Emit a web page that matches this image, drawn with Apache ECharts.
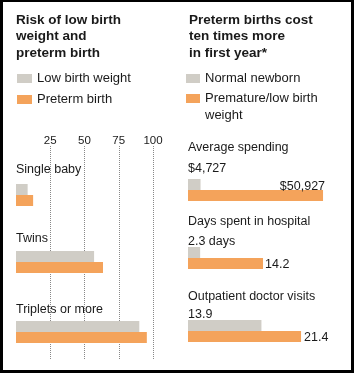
<!DOCTYPE html>
<html lang="en">
<head>
<meta charset="UTF-8">
<title>Preterm and low birth weight</title>
<script src="https://cdn.jsdelivr.net/npm/echarts@6/dist/echarts.min.js"></script>
<style>
  html, body { margin: 0; padding: 0; background: #fff; }
  #wrap { position: relative; width: 354px; height: 373px; }
  #chart { position: absolute; left: 0; top: 0; width: 354px; height: 373px; }
  #frame {
    position: absolute; left: 0; top: 0; width: 354px; height: 373px;
    box-sizing: border-box; border-style: solid; border-color: #000;
    border-width: 2px 3px 3px 3px; pointer-events: none;
  }
</style>
</head>
<body>
<div id="wrap">
  <div id="chart"></div>
  <div id="frame"></div>
</div>
<script>
// left panel: risk, percent
var riskTicks = [25, 50, 75, 100];
var riskGroups = ['Single baby', 'Twins', 'Triplets or more'];
var lowWeight = [8.5, 57, 90];
var pretermRisk = [12.5, 63.5, 95.5];

// right panel: cost in first year
var costGroups = ['Average spending', 'Days spent in hospital', 'Outpatient doctor visits'];
var normalNewborn = [4727, 2.3, 13.9];
var premature = [50927, 14.2, 21.4];
var normalLabels = ['$4,727', '2.3 days', '13.9'];
var prematureLabels = ['$50,927', '14.2', '21.4'];

var GRAY = '#d0cdc6';
var ORANGE = '#f4a35b';
var INK = '#1a1a1a';
var FONT = '"Liberation Sans", Arial, sans-serif';

var myChart = echarts.init(document.getElementById('chart'));

var grids = [];
var xAxes = [];
var yAxes = [];
var series = [];

// grid 0: just the dotted lines and the 25..100 labels
grids.push({ left: 16, width: 137, top: 146, height: 214 });
xAxes.push({
  gridIndex: 0, type: 'value', position: 'top', min: 0, max: 100, interval: 25,
  axisLine: { show: false }, axisTick: { show: false },
  axisLabel: {
    margin: -1, fontSize: 11.5, color: INK, fontFamily: FONT, showMinLabel: false,
    formatter: function (v) { return riskTicks.indexOf(v) >= 0 ? String(v) : ''; }
  },
  splitLine: { show: true, showMinLine: false, lineStyle: { color: '#888', type: 'dotted', width: 1 } }
});
yAxes.push({ gridIndex: 0, type: 'value', min: 0, max: 1, show: false });

var leftTops = [184, 251, 321];
var leftNameGap = [14, 12, 11];
var rightTops = [179, 247, 320];
var rightNameGap = [31, 25, 23];
var rightMax = [52800, 26.5, 26.5];

function groupAxis(idx, name, gap) {
  return {
    gridIndex: idx, type: 'category', data: [name], inverse: true,
    axisLine: { show: false }, axisTick: { show: false }, axisLabel: { show: false },
    splitLine: { show: false },
    name: name, nameLocation: 'start', nameGap: gap,
    nameTextStyle: { align: 'left', verticalAlign: 'middle', fontSize: 12.5, color: INK, fontFamily: FONT }
  };
}

for (var i = 0; i < riskGroups.length; i++) {
  var g = grids.length;
  grids.push({ left: 16, width: 137, top: leftTops[i], height: 22 });
  xAxes.push({ gridIndex: g, type: 'value', min: 0, max: 100, show: false });
  yAxes.push(groupAxis(g, riskGroups[i], leftNameGap[i]));
  series.push({
    name: 'Low birth weight', type: 'bar', xAxisIndex: g, yAxisIndex: g,
    data: [lowWeight[i]], barWidth: 11, barGap: '0%', itemStyle: { color: GRAY }
  });
  series.push({
    name: 'Preterm birth', type: 'bar', xAxisIndex: g, yAxisIndex: g,
    data: [pretermRisk[i]], barWidth: 11, barGap: '0%', itemStyle: { color: ORANGE }
  });
}

var grayLabelPos = [[0, -10], [0, -5], [0, -5]];
var orangeLabel = [
  { position: ['100%', -3], offset: [2, 0], align: 'right', verticalAlign: 'middle' },
  { position: 'right', distance: 2, offset: [0, 1] },
  { position: 'right', distance: 3, offset: [0, 1] }
];

for (var j = 0; j < costGroups.length; j++) {
  var h = grids.length;
  grids.push({ left: 188, width: 140, top: rightTops[j], height: 22 });
  xAxes.push({ gridIndex: h, type: 'value', min: 0, max: rightMax[j], show: false });
  yAxes.push(groupAxis(h, costGroups[j], rightNameGap[j]));
  (function (k) {
    series.push({
      name: 'Normal newborn', type: 'bar', xAxisIndex: h, yAxisIndex: h,
      data: [normalNewborn[k]], barWidth: 11, barGap: '0%', itemStyle: { color: GRAY },
      label: {
        show: true, position: grayLabelPos[k], align: 'left', verticalAlign: 'middle',
        fontSize: 12.5, color: INK, fontFamily: FONT,
        formatter: function () { return normalLabels[k]; }
      }
    });
    series.push({
      name: 'Premature/low birth weight', type: 'bar', xAxisIndex: h, yAxisIndex: h,
      data: [premature[k]], barWidth: 11, barGap: '0%', itemStyle: { color: ORANGE },
      label: Object.assign({
        show: true, fontSize: 12.5, color: INK, fontFamily: FONT,
        formatter: function () { return prematureLabels[k]; }
      }, orangeLabel[k])
    });
  })(j);
}

var legendText = { fontSize: 13, color: INK, fontFamily: FONT, lineHeight: 19 };

var option = {
  backgroundColor: '#fff',
  animation: false,
  title: [
    {
      text: 'Risk of low birth\nweight and\npreterm birth', left: 16, top: 12, padding: 0,
      textStyle: { fontSize: 13.5, fontWeight: 'bold', lineHeight: 16.5, color: INK, fontFamily: FONT }
    },
    {
      text: 'Preterm births cost\nten times more\nin first year*', left: 189, top: 12, padding: 0,
      textStyle: { fontSize: 13.5, fontWeight: 'bold', lineHeight: 16.5, color: INK, fontFamily: FONT }
    }
  ],
  legend: [
    {
      data: ['Low birth weight', 'Preterm birth'], orient: 'vertical', left: 17, top: 69,
      padding: 0, icon: 'rect', itemWidth: 15, itemHeight: 9, itemGap: 2, selectedMode: false,
      textStyle: legendText
    },
    {
      data: ['Normal newborn', 'Premature/low birth weight'], orient: 'vertical', left: 186, top: 69,
      padding: 0, icon: 'rect', itemWidth: 14, itemHeight: 9, itemGap: 1, selectedMode: false,
      // the swatch sits level with the first line, the last word wraps below (graphic)
      formatter: function (name) {
        return name === 'Premature/low birth weight' ? 'Premature/low birth' : name;
      },
      textStyle: legendText
    }
  ],
  graphic: [
    {
      type: 'text', left: 205, top: 109,
      style: { text: 'weight', fontSize: 13, fill: INK, fontFamily: FONT }
    }
  ],
  grid: grids,
  xAxis: xAxes,
  yAxis: yAxes,
  series: series
};

myChart.setOption(option);
</script>
</body>
</html>
